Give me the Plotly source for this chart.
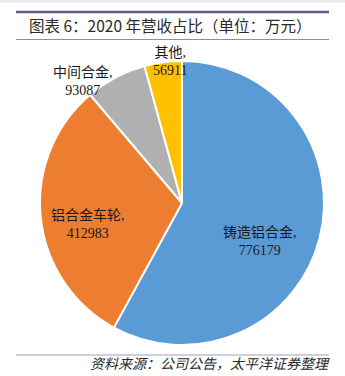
import plotly.graph_objects as go

# Data
categories = ["铸造铝合金", "铝合金车轮", "中间合金", "其他"]
values = [776179, 412983, 93087, 56911]
colors = ["#5B9BD5", "#ED7D31", "#B0B0B0", "#FFC000"]
title_text = "图表 6：2020 年营收占比（单位：万元）"
source_text = "资料来源：公司公告，太平洋证券整理"

W, H = 345, 376

def px(x):
    return x / W

def py(y):
    return 1 - y / H

# label centres (pixel positions in the picture), one per category
label_pos = [(260, 241), (88, 224), (83, 81), (170, 62)]

fig = go.Figure()
fig.add_trace(go.Pie(
    labels=categories,
    values=values,
    marker=dict(colors=colors, line=dict(color="white", width=2)),
    sort=False,
    direction="clockwise",
    rotation=0,
    textinfo="none",
    hoverinfo="label+value+percent",
    showlegend=False,
    domain=dict(x=[px(40), px(324)], y=[py(345), py(61)]),
))

annotations = []
for name, val, (lx, ly) in zip(categories, values, label_pos):
    annotations.append(dict(
        x=px(lx), y=py(ly), xref="paper", yref="paper",
        text=f"{name},<br>{val}", showarrow=False,
        xanchor="center", yanchor="middle", align="center",
        font=dict(family="Liberation Serif, Noto Sans CJK SC", size=14, color="#1a1a1a"),
    ))

annotations.append(dict(
    x=px(27), y=py(25), xref="paper", yref="paper",
    text=title_text, showarrow=False, xanchor="left", yanchor="middle",
    font=dict(family="Noto Sans CJK SC", size=15.5, color="#2a2a2a"),
))
annotations.append(dict(
    x=px(332), y=py(363), xref="paper", yref="paper",
    text=f"<i>{source_text}</i>", showarrow=False, xanchor="right", yanchor="middle",
    font=dict(family="Noto Sans CJK SC", size=14, color="#2a2a2a"),
))

shapes = [
    dict(type="rect", xref="paper", yref="paper", x0=0, x1=1, y0=py(2.5), y1=1,
         fillcolor="#E6E8EE", line=dict(width=0), layer="below"),
    dict(type="line", xref="paper", yref="paper", x0=px(16), x1=px(329), y0=py(12), y1=py(12),
         line=dict(color="#5E5E8E", width=2.5)),
    dict(type="line", xref="paper", yref="paper", x0=px(16), x1=px(329), y0=py(39.5), y1=py(39.5),
         line=dict(color="#8C8CAE", width=1.2)),
    dict(type="line", xref="paper", yref="paper", x0=px(16), x1=px(329), y0=py(355), y1=py(355),
         line=dict(color="#A0A0C0", width=1.2)),
]

fig.update_layout(
    width=W, height=H,
    margin=dict(l=0, r=0, t=0, b=0),
    paper_bgcolor="white",
    plot_bgcolor="white",
    annotations=annotations,
    shapes=shapes,
)

fig.write_html("out.html")
